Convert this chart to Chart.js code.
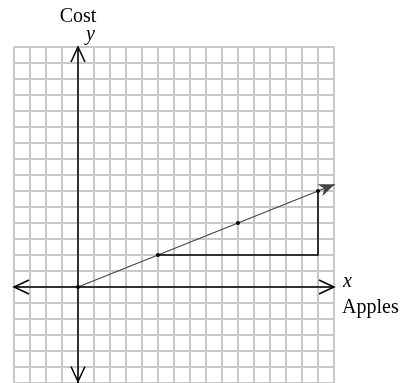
<!DOCTYPE html>
<html>
<head>
<meta charset="utf-8">
<script src="https://cdn.jsdelivr.net/npm/chart.js@4/dist/chart.umd.min.js"></script>
<style>
html,body{margin:0;padding:0;background:#fff;}
#wrap{width:406px;height:383px;position:relative;}
</style>
</head>
<body>
<div id="wrap"><canvas id="c" width="406" height="383"></canvas></div>
<script>
// Axis ranges (grid units)
const xRange = [-4, 16];
const yRange = [-6, 15];
// Apples vs cost points on the line
const apples = [0, 5, 10, 15];
const cost = [0, 2, 4, 6];
// Line extension to arrow tip
const lineTip = [16.05, 6.42];
// Slope triangle: run then rise
const triangleX = [5, 15, 15];
const triangleY = [2, 2, 6];
// Labels
const xLabel = 'x';
const xTitle = 'Apples';
const yLabel = 'y';
const yTitle = 'Cost';

const lineData = apples.map((a, i) => ({x: a, y: cost[i]})).concat([{x: lineTip[0], y: lineTip[1]}]);

const arrowPlugin = {
  id: 'arrows',
  afterDatasetsDraw(chart) {
    const ctx = chart.ctx;
    const xs = chart.scales.x, ys = chart.scales.y;
    const ox = xs.getPixelForValue(0), oy = ys.getPixelForValue(0);
    const xl = xs.getPixelForValue(xRange[0]), xr = xs.getPixelForValue(xRange[1]);
    const yt = ys.getPixelForValue(yRange[1]), yb = ys.getPixelForValue(yRange[0]);
    ctx.save();
    ctx.strokeStyle = '#000';
    ctx.lineWidth = 1.5;
    function chevron(tx, ty, dx, dy) {
      const L = 15, W = 7;
      const px = -dy, py = dx;
      ctx.beginPath();
      ctx.moveTo(tx - dx * L + px * W, ty - dy * L + py * W);
      ctx.lineTo(tx, ty);
      ctx.lineTo(tx - dx * L - px * W, ty - dy * L - py * W);
      ctx.stroke();
    }
    chevron(xl, oy, -1, 0);
    chevron(xr, oy, 1, 0);
    chevron(ox, yt, 0, -1);
    chevron(ox, yb - 1.5, 0, 1);
    const n = lineData.length;
    const p1x = xs.getPixelForValue(lineData[n - 2].x), p1y = ys.getPixelForValue(lineData[n - 2].y);
    const p2x = xs.getPixelForValue(lineData[n - 1].x), p2y = ys.getPixelForValue(lineData[n - 1].y);
    let dx = p2x - p1x, dy = p2y - p1y;
    const len = Math.hypot(dx, dy); dx /= len; dy /= len;
    const L = 16, W = 6.5;
    ctx.fillStyle = '#444';
    ctx.beginPath();
    ctx.moveTo(p2x, p2y);
    ctx.lineTo(p2x - dx * L - dy * W, p2y - dy * L + dx * W);
    ctx.lineTo(p2x - dx * L * 0.7, p2y - dy * L * 0.7);
    ctx.lineTo(p2x - dx * L + dy * W, p2y - dy * L - dx * W);
    ctx.closePath();
    ctx.fill();
    ctx.fillStyle = '#000';
    ctx.textBaseline = 'alphabetic';
    ctx.font = '20px "Liberation Serif", "Times New Roman", serif';
    ctx.textAlign = 'center';
    ctx.fillText(yTitle, ox, 22);
    ctx.textAlign = 'left';
    ctx.fillText(xTitle, xr + 8, oy + 26);
    ctx.font = 'italic 20px "Liberation Serif", "Times New Roman", serif';
    ctx.fillText(yLabel, ox + 8, yt - 7);
    ctx.fillText(xLabel, xr + 9, oy);
    ctx.restore();
  }
};

function zeroSize(scale) {
  if (scale.isHorizontal()) scale.height = 0; else scale.width = 0;
}

new Chart(document.getElementById('c'), {
  type: 'scatter',
  data: {
    datasets: [
      {
        data: [{x: xRange[0], y: 0}, {x: xRange[1], y: 0}],
        showLine: true, borderColor: '#000', borderWidth: 1.5, pointRadius: 0, clip: false
      },
      {
        data: [{x: 0, y: yRange[0]}, {x: 0, y: yRange[1]}],
        showLine: true, borderColor: '#000', borderWidth: 1.5, pointRadius: 0, clip: false
      },
      {
        data: triangleX.map((v, i) => ({x: v, y: triangleY[i]})),
        showLine: true, borderColor: '#000', borderWidth: 1.5, pointRadius: 0, clip: false
      },
      {
        data: lineData,
        showLine: true, borderColor: '#444', borderWidth: 1.3,
        pointRadius: lineData.map((p, i) => i < apples.length ? 2 : 0),
        pointBackgroundColor: '#000', pointBorderColor: '#000', pointBorderWidth: 0,
        clip: false
      }
    ]
  },
  options: {
    responsive: false,
    animation: false,
    devicePixelRatio: 1,
    layout: {autoPadding: false, padding: {left: 14, right: 72, top: 47, bottom: 0}},
    plugins: {legend: {display: false}, tooltip: {enabled: false}},
    scales: {
      x: {
        type: 'linear', min: xRange[0], max: xRange[1],
        ticks: {display: false, stepSize: 1},
        grid: {color: '#c8c8c8', lineWidth: 2, drawTicks: false},
        border: {display: false},
        afterFit: zeroSize
      },
      y: {
        type: 'linear', min: yRange[0], max: yRange[1],
        ticks: {display: false, stepSize: 1},
        grid: {color: '#c8c8c8', lineWidth: 2, drawTicks: false},
        border: {display: false},
        afterFit: zeroSize
      }
    }
  },
  plugins: [arrowPlugin]
});
</script>
</body>
</html>
